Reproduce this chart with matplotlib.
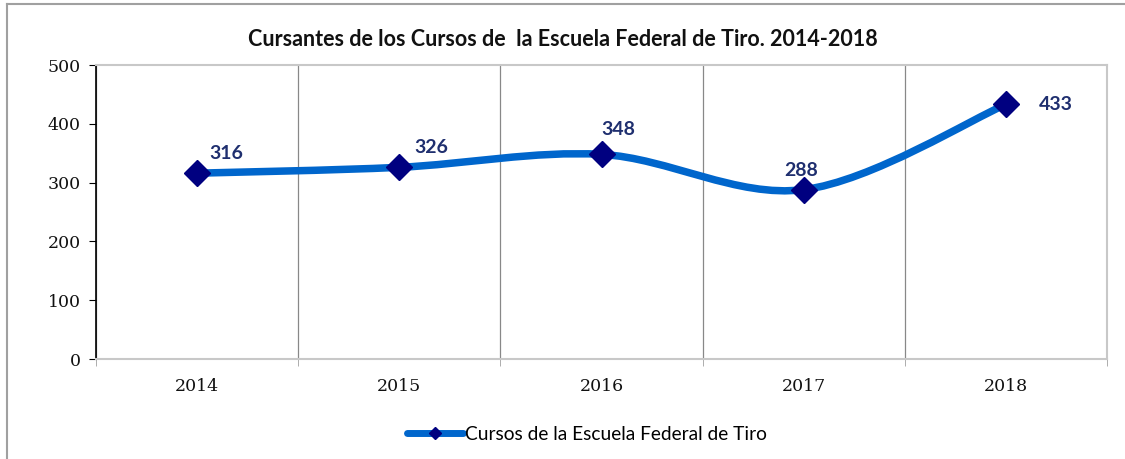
import numpy as np
import matplotlib.pyplot as plt
from matplotlib.path import Path
from matplotlib.patches import PathPatch
from matplotlib.lines import Line2D

# Data
years = ["2014", "2015", "2016", "2017", "2018"]
cursantes = [316, 326, 348, 288, 433]
series_name = "Cursos de la Escuela Federal de Tiro"
title = "Cursantes de los Cursos de  la Escuela Federal de Tiro. 2014-2018"

# label offsets in points (dx, dy) relative to each marker
label_offsets = [(21, 14), (23, 14), (12, 18), (-2, 14), (36, 0)]

line_color = "#0066CC"
marker_color = "#000080"
label_color = "#1F2F6F"

W, H = 1125, 459
fig = plt.figure(figsize=(W / 100, H / 100), dpi=100)

# plot area in pixels: left 96, right 1107, top 65, bottom 359
ax = fig.add_axes([96 / W, 1 - 359 / H, (1107 - 96) / W, (359 - 65) / H])

x = np.arange(len(years))
y = np.array(cursantes, dtype=float)

# smoothed line like a spreadsheet chart: cubic Bezier segments (Catmull-Rom tangents)
verts = [(x[0], y[0])]
codes = [Path.MOVETO]
n = len(x)
for i in range(n - 1):
    p0 = np.array([x[max(i - 1, 0)], y[max(i - 1, 0)]])
    p1 = np.array([x[i], y[i]])
    p2 = np.array([x[i + 1], y[i + 1]])
    p3 = np.array([x[min(i + 2, n - 1)], y[min(i + 2, n - 1)]])
    c1 = p1 + (p2 - p0) / 6
    c2 = p2 - (p3 - p1) / 6
    verts += [tuple(c1), tuple(c2), tuple(p2)]
    codes += [Path.CURVE4] * 3
ax.add_patch(PathPatch(Path(verts, codes), facecolor="none", edgecolor=line_color,
                       lw=5.4, capstyle="round", zorder=3))
ax.plot(x, y, linestyle="none", marker="D", markersize=13.5, color=marker_color, zorder=4)

for xi, yi, (dx, dy) in zip(x, y, label_offsets):
    ax.annotate(f"{int(yi)}", (xi, yi), xytext=(dx, dy), textcoords="offset points",
                ha="center", va="center", fontsize=14, fontweight="bold",
                color=label_color, family="Lato", zorder=5)

ax.set_xlim(-0.5, n - 0.5)
ax.set_ylim(0, 500)
ax.set_yticks(np.arange(0, 501, 100))
ax.set_xticks(x)
ax.set_xticklabels(years)
ax.set_xticks(np.arange(-0.5, n, 1), minor=True)
ax.tick_params(axis="x", which="major", length=0, pad=14)
ax.tick_params(axis="x", which="minor", length=5, color="#A0A0A0", direction="out")
ax.tick_params(axis="y", length=5, color="black", direction="out", pad=6)
for lab in ax.get_xticklabels() + ax.get_yticklabels():
    lab.set_family("DejaVu Serif")
    lab.set_fontsize(12.5)
    lab.set_color("#111111")

ax.grid(axis="x", which="minor", color="#888888", lw=0.9)
ax.set_axisbelow(True)
for side in ["top", "right", "bottom"]:
    ax.spines[side].set_color("#C8C8C8")
    ax.spines[side].set_linewidth(1.5)
ax.spines["left"].set_color("black")
ax.spines["left"].set_linewidth(1.2)

fig.text(563 / W, 1 - 40 / H, title, ha="center", va="center",
         fontsize=15.5, fontweight="bold", family="Lato", color="#111111")

handle = Line2D([], [], color=line_color, lw=5, marker="D", markersize=6,
                markerfacecolor=marker_color, markeredgecolor=marker_color,
                solid_capstyle="round")
fig.legend([handle], [series_name], loc="center", bbox_to_anchor=(587 / W, 1 - 434 / H),
           frameon=False, handlelength=2.9, handletextpad=0.1,
           prop={"family": "Lato", "size": 13.8})

# outer chart frame (only left and top edges fall inside the picture)
fig.add_artist(Line2D([7 / W, 7 / W], [0, 1 - 4 / H], color="#A0A0A0", lw=1.5,
                      transform=fig.transFigure))
fig.add_artist(Line2D([7 / W, 1], [1 - 4 / H, 1 - 4 / H], color="#A0A0A0", lw=1.5,
                      transform=fig.transFigure))

fig.savefig("out.png", dpi=100)
